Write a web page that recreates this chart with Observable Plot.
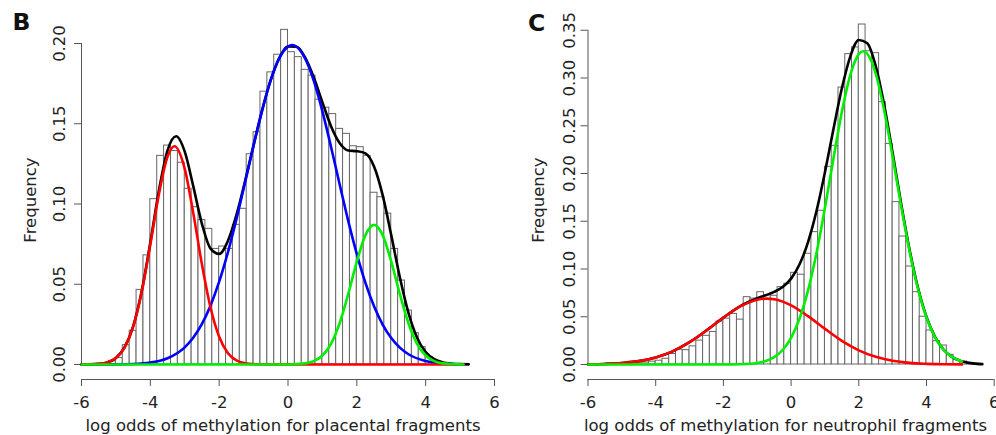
<!DOCTYPE html>
<html><head><meta charset="utf-8">
<script src="https://cdn.jsdelivr.net/npm/d3@7"></script>
<script src="https://cdn.jsdelivr.net/npm/@observablehq/plot@0.6"></script>
<style>
html,body{margin:0;padding:0;background:#fff;}
#wrap{position:relative;width:996px;height:435px;overflow:hidden;background:#fff;}
.panel{position:absolute;top:0;width:498px;height:435px;}
.panel svg{overflow:visible;}
</style></head><body>
<div id="wrap"><div id="pc" class="panel" style="left:498px"></div><div id="pb" class="panel" style="left:0;z-index:2"></div></div>
<script>
// ---------- shared ----------
const xTicks = [-6, -4, -2, 0, 2, 4, 6];
const binWidth = 0.2;

// ---------- panel B: placental fragments ----------
const bYTicks = [0, 0.05, 0.10, 0.15, 0.20];
const bTitle = "log odds of methylation for placental fragments";
const bBinStart = -5.2;
const bHeights = [0.002, 0.004, 0.012, 0.021, 0.0465, 0.068, 0.103, 0.130, 0.1364, 0.133,
  0.1257, 0.1095, 0.098, 0.090, 0.0845, 0.072, 0.0735, 0.072, 0.087, 0.097,
  0.131, 0.1447, 0.170, 0.182, 0.193, 0.2085, 0.1946, 0.1915, 0.1836, 0.180,
  0.165, 0.160, 0.156, 0.1468, 0.1437, 0.136, 0.1354, 0.130, 0.107, 0.1042,
  0.094, 0.072, 0.0523, 0.0336, 0.0195, 0.0108, 0.0046, 0.0015];

const bBlackX = [-6, -5.75, -5.5, -5.25, -5, -4.75, -4.5, -4.25, -4, -3.75, -3.5, -3.25, -3, -2.75, -2.5, -2.25, -2, -1.75, -1.5, -1.25, -1, -0.75, -0.5, -0.25, 0, 0.25, 0.5, 0.75, 1, 1.25, 1.5, 1.75, 2, 2.25, 2.5, 2.75, 3, 3.25, 3.5, 3.75, 4, 4.25, 4.5, 4.75, 5, 5.25];
const bBlackY = [0, 0.0001, 0.0004, 0.0013, 0.0041, 0.0106, 0.0237, 0.0458, 0.0760, 0.1084, 0.1334, 0.1422, 0.1326, 0.1108, 0.0876, 0.0722, 0.0689, 0.0768, 0.0930, 0.1140, 0.1367, 0.1585, 0.1773, 0.1910, 0.1981, 0.1980, 0.1912, 0.1788, 0.1633, 0.1485, 0.1380, 0.1333, 0.1329, 0.1315, 0.1233, 0.1055, 0.0806, 0.0543, 0.0321, 0.0167, 0.0078, 0.0033, 0.0013, 0.0005, 0.0002, 0.0001];

const bBlueX = [-6, -5, -4.5, -4, -3.5, -3, -2.75, -2.5, -2.25, -2, -1.75, -1.5, -1.25, -1, -0.75, -0.5, -0.25, 0, 0.12, 0.25, 0.5, 0.75, 1, 1.25, 1.5, 1.75, 2, 2.25, 2.5, 2.75, 3, 3.25, 3.5, 4, 4.5, 5.1];
const bBlueY = [0, 0.0001, 0.0003, 0.0012, 0.0039, 0.0107, 0.0168, 0.0253, 0.0368, 0.0516, 0.0696, 0.0904, 0.1132, 0.1365, 0.1585, 0.1773, 0.1910, 0.1981, 0.199, 0.1980, 0.1905, 0.1767, 0.1577, 0.1356, 0.1123, 0.0895, 0.0688, 0.0509, 0.0363, 0.0249, 0.0165, 0.0105, 0.0064, 0.0022, 0.0006, 0.0001];

const bRedX = [-6, -5.5, -5.25, -5, -4.75, -4.5, -4.25, -4, -3.75, -3.5, -3.3, -3, -2.75, -2.5, -2.25, -2, -1.75, -1.5, -1.25, -1, -0.5, 5.1];
const bRedY = [0, 0.0004, 0.0013, 0.0040, 0.0104, 0.0234, 0.0452, 0.0748, 0.1062, 0.1295, 0.136, 0.1219, 0.0940, 0.0623, 0.0354, 0.0173, 0.0072, 0.0026, 0.0008, 0.0002, 0, 0];

const bGreenX = [-6, 0, 0.5, 0.75, 1, 1.25, 1.5, 1.75, 2, 2.25, 2.5, 2.75, 3, 3.25, 3.5, 3.75, 4, 4.25, 4.5, 5.1];
const bGreenY = [0, 0, 0.0007, 0.0021, 0.0056, 0.0129, 0.0257, 0.0438, 0.0641, 0.0806, 0.087, 0.0806, 0.0641, 0.0438, 0.0257, 0.0129, 0.0056, 0.0021, 0.0007, 0];

// ---------- panel C: neutrophil fragments ----------
const cYTicks = [0, 0.05, 0.10, 0.15, 0.20, 0.25, 0.30, 0.35];
const cTitle = "log odds of methylation for neutrophil fragments";
const cBinStart = -5.0;
const cHeights = [0.001, 0.003, 0.002, 0.002, 0.003, 0.004, 0.006, 0.011, 0.0154, 0.015,
  0.019, 0.025, 0.030, 0.034, 0.045, 0.048, 0.053, 0.047, 0.0705, 0.069,
  0.0757, 0.0723, 0.072, 0.081, 0.0845, 0.096, 0.094, 0.116, 0.1386, 0.161,
  0.207, 0.229, 0.290, 0.325, 0.332, 0.356, 0.328, 0.326, 0.2747, 0.231,
  0.170, 0.134, 0.1026, 0.0757, 0.050, 0.0356, 0.0244, 0.0199, 0.0101, 0.0049,
  0.0031, 0.0017, 0.001];

const cBlackX = [-6, -5.5, -5, -4.5, -4, -3.5, -3, -2.5, -2, -1.5, -1.25, -1, -0.75, -0.5, -0.25, 0, 0.25, 0.5, 0.75, 1, 1.25, 1.5, 1.75, 2, 2.25, 2.5, 2.75, 3, 3.25, 3.5, 3.75, 4, 4.25, 4.5, 4.75, 5, 5.25, 5.5, 5.65];
const cBlackY = [0.0002, 0.0006, 0.0015, 0.0035, 0.0074, 0.0138, 0.0234, 0.0357, 0.0491, 0.0611, 0.0658, 0.0695, 0.0726, 0.0760, 0.0811, 0.0899, 0.1049, 0.1282, 0.1607, 0.2014, 0.2463, 0.2892, 0.3227, 0.3398, 0.3364, 0.3125, 0.2718, 0.2214, 0.1687, 0.1202, 0.0801, 0.0499, 0.0290, 0.0157, 0.0080, 0.0038, 0.0017, 0.0007, 0.0004];

const cRedX = [-6, -5.5, -5, -4.5, -4, -3.5, -3, -2.5, -2, -1.5, -1, -0.72, -0.5, 0, 0.5, 1, 1.5, 2, 2.5, 3, 3.5, 4, 4.5, 5.05];
const cRedY = [0.0002, 0.0006, 0.0015, 0.0035, 0.0074, 0.0138, 0.0234, 0.0357, 0.0491, 0.0608, 0.0679, 0.069, 0.0683, 0.0619, 0.0506, 0.0373, 0.0247, 0.0148, 0.0080, 0.0039, 0.0017, 0.0007, 0.0002, 0.0001];

const cGreenX = [-6, -2, -1.5, -1, -0.75, -0.5, -0.25, 0, 0.25, 0.5, 0.75, 1, 1.25, 1.5, 1.75, 2, 2.13, 2.25, 2.5, 2.75, 3, 3.25, 3.5, 3.75, 4, 4.25, 4.5, 4.75, 5.05];
const cGreenY = [0, 0, 0.0003, 0.0016, 0.0036, 0.0077, 0.0152, 0.0280, 0.0482, 0.0776, 0.1167, 0.1641, 0.2155, 0.2645, 0.3033, 0.3250, 0.328, 0.3254, 0.3045, 0.2662, 0.2175, 0.1661, 0.1185, 0.0790, 0.0492, 0.0286, 0.0155, 0.0079, 0.0032];

// ---------- drawing ----------
const FONT = "'DejaVu Sans', Verdana, sans-serif";
const fmtY = d3.format(".2f");

function drawPanel(cfg) {
  const bars = cfg.heights.map((h, i) => ({
    x1: cfg.binStart + i * binWidth,
    x2: cfg.binStart + (i + 1) * binWidth,
    y: h
  }));
  return Plot.plot({
    width: 498,
    height: 435,
    marginLeft: cfg.marginLeft,
    marginRight: cfg.marginRight,
    marginTop: 20,
    marginBottom: 56,
    x: {domain: [xTicks[0], xTicks[xTicks.length - 1]]},
    y: {domain: cfg.yDomain},
    style: {fontFamily: FONT, fontSize: "16.5px", color: "#222", background: "transparent", overflow: "visible"},
    marks: [
      Plot.rect(bars, {x1: "x1", x2: "x2", y1: 0, y2: "y", fill: "white", stroke: "#666", strokeWidth: 1}),
      ...cfg.curves.map(c => Plot.line(c.x, {x: c.x, y: c.y, stroke: c.color, strokeWidth: 2.6, curve: "monotone-x"})),
      Plot.ruleY([cfg.yDomain[0]], {x1: xTicks[0], x2: xTicks[xTicks.length - 1], stroke: "#555"}),
      Plot.ruleX([xTicks[0]], {y1: cfg.yTicks[0], y2: cfg.yTicks[cfg.yTicks.length - 1], stroke: "#555"}),
      Plot.axisX({ticks: xTicks, tickSize: 7, tickPadding: 10, label: null, stroke: "#555", fill: "#222", tickFormat: d => String(d)}),
      Plot.axisY({ticks: cfg.yTicks, tickSize: 7, label: null, stroke: "#555", tickFormat: () => ""}),
      Plot.text(cfg.yTicks, {y: d => d, text: d => fmtY(d), frameAnchor: "left", textAnchor: "middle", lineAnchor: "middle", rotate: -90, dx: cfg.yTickDx, fill: "#222"}),
      Plot.text(["Frequency"], {text: d => d, frameAnchor: "left", textAnchor: "middle", lineAnchor: "middle", rotate: -90, dx: cfg.yLabelDx, fill: "#222"}),
      Plot.text([cfg.title], {text: d => d, frameAnchor: "bottom", textAnchor: "middle", lineAnchor: "middle", dy: 46, dx: cfg.titleDx, fill: "#222"}),
      Plot.text([cfg.letter], {text: d => d, frameAnchor: "top-left", textAnchor: "middle", lineAnchor: "middle", dx: cfg.letterDx, dy: cfg.letterDy, fontWeight: "bold", fontSize: 23.5, fill: "#111"})
    ]
  });
}

const panelC = drawPanel({
  heights: cHeights, binStart: cBinStart, yTicks: cYTicks, title: cTitle, letter: "C",
  yDomain: [-0.015707, 0.36021],
  marginLeft: 89.5, marginRight: 2.3,
  yTickDx: -18, yLabelDx: -49.5, titleDx: -5.6, letterDx: -51.5, letterDy: 2.6,
  curves: [
    {x: cBlackX, y: cBlackY, color: "#000000"},
    {x: cRedX, y: cRedY, color: "#ff0000"},
    {x: cGreenX, y: cGreenY, color: "#00ee00"}
  ]
});
document.getElementById("pc").appendChild(panelC);

const panelB = drawPanel({
  heights: bHeights, binStart: bBinStart, yTicks: bYTicks, title: bTitle, letter: "B",
  yDomain: [-0.00935, 0.21433],
  marginLeft: 81, marginRight: 4,
  yTickDx: -22, yLabelDx: -51, titleDx: -5, letterDx: -60, letterDy: 1.5,
  curves: [
    {x: bBlackX, y: bBlackY, color: "#000000"},
    {x: bBlueX, y: bBlueY, color: "#0000ff"},
    {x: bRedX, y: bRedY, color: "#ff0000"},
    {x: bGreenX, y: bGreenY, color: "#00ee00"}
  ]
});
document.getElementById("pb").appendChild(panelB);
</script></body></html>
